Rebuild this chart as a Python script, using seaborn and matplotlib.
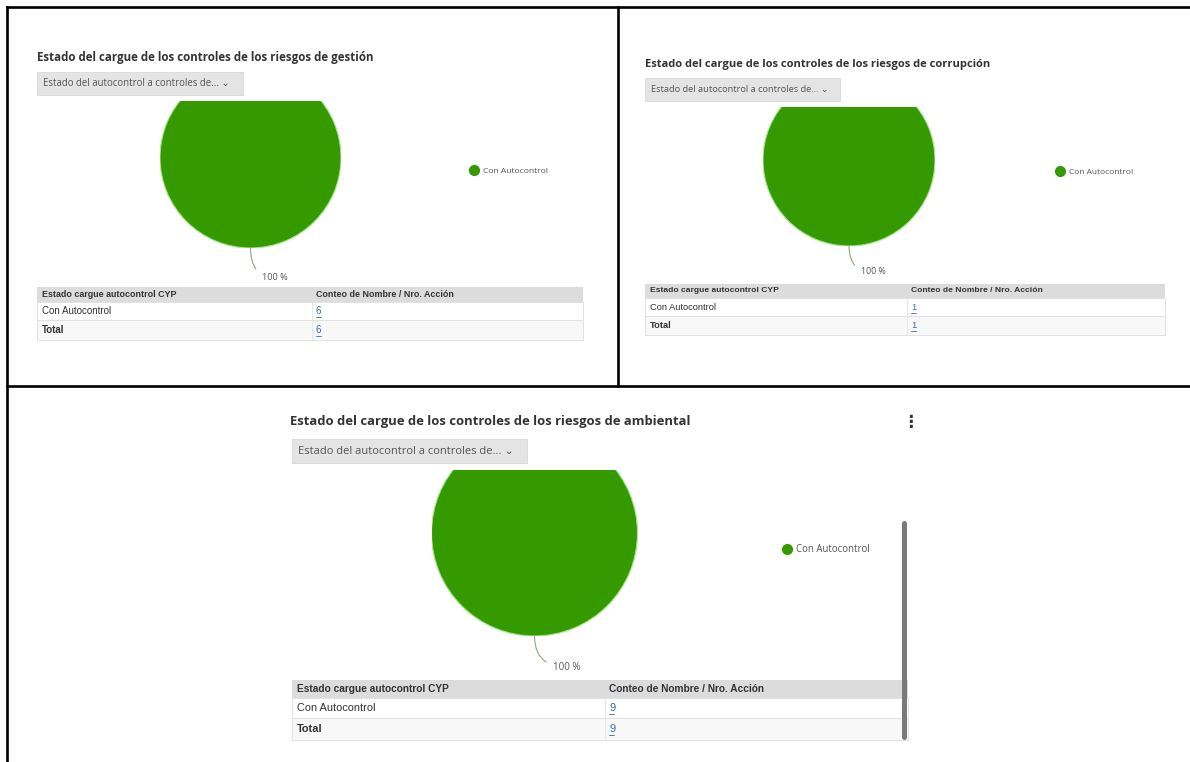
import matplotlib
matplotlib.use("Agg")
import matplotlib.pyplot as plt
import seaborn as sns
from matplotlib.lines import Line2D
from matplotlib.patches import Rectangle

# ---------------- data ----------------
panel_titles = [
    "Estado del cargue de los controles de los riesgos de gestión",
    "Estado del cargue de los controles de los riesgos de corrupción",
    "Estado del cargue de los controles de los riesgos de ambiental",
]
dropdown_label = "Estado del autocontrol a controles de... \u2304"
categories = ["Con Autocontrol"]
counts_gestion = [6]
counts_corrupcion = [1]
counts_ambiental = [9]
table_headers = ["Estado cargue autocontrol CYP", "Conteo de Nombre / Nro. Acción"]
total_label = "Total"
pie_colors = ["#359a00"]

panel_counts = [counts_gestion, counts_corrupcion, counts_ambiental]

# ---------------- layout (pixels) ----------------
W, H = 1190, 762
layout = [
    dict(title=(37, 58, 8.3), dd=(37, 72, 243, 95, 6.9), pie=(250.5, 157.5, 90.5, 101),
         lab=(262, 277, 6.6), legend=(474, 171, 6.1), table=(37, 583, 312, [287, 302, 320, 340], 6.4)),
    dict(title=(645, 65, 8.0), dd=(645, 78, 840, 101, 6.7), pie=(849, 160, 86, 107),
         lab=(861, 272, 6.3), legend=(1060, 172, 6.0), table=(645, 1165, 907, [284, 298, 316, 335], 6.1)),
    dict(title=(290, 422, 9.35), dd=(292, 439, 527, 463, 8.0), pie=(534.5, 533, 103, 470),
         lab=(553, 667, 7.0), legend=(785, 550, 6.9), table=(292, 908, 605, [680, 698, 718, 740], 7.3)),
]

sns.set_theme(style="white")
plt.rcParams['font.family'] = ['Open Sans', 'DejaVu Sans']

fig = plt.figure(figsize=(W / 100, H / 100), dpi=100)
fig.patch.set_facecolor("white")

bg = fig.add_axes([0, 0, 1, 1])
bg.set_xlim(0, W)
bg.set_ylim(H, 0)
bg.axis("off")
bg.set_zorder(0)

# outer frame / dividers
frame_kw = dict(color="black", lw=1.9, solid_capstyle="projecting")
bg.plot([7, W], [7, 7], **frame_kw)
bg.plot([7, 7], [7, H], **frame_kw)
bg.plot([7, W], [386, 386], **frame_kw)
bg.plot([618, 618], [7, 386], **frame_kw)

table_font = ['Liberation Sans', 'DejaVu Sans']

for i, (title, counts, L) in enumerate(zip(panel_titles, panel_counts, layout)):
    # title
    tx, ty, tfs = L["title"]
    bg.text(tx, ty, title, fontsize=tfs, fontweight="bold", color="#333333",
            va="center", ha="left")
    # dropdown
    x0, y0, x1, y1, dfs = L["dd"]
    bg.add_patch(Rectangle((x0, y0), x1 - x0, y1 - y0, facecolor="#e4e4e4",
                           edgecolor="#d8d8d8", lw=0.6))
    bg.text(x0 + 6, (y0 + y1) / 2, dropdown_label, fontsize=dfs, color="#555555",
            va="center", ha="left")

    # pie (clipped at top)
    cx, cy, r, top = L["pie"]
    bottom = cy + r
    pax = fig.add_axes([(cx - r) / W, 1 - bottom / H, 2 * r / W, (bottom - top) / H])
    wedges, _ = pax.pie(counts, colors=pie_colors, startangle=90, counterclock=False,
                        wedgeprops=dict(edgecolor="#a8e38c", linewidth=0.8))
    for w in wedges:
        w.set_clip_on(True)
        w.set_clip_path(pax.patch)
    pax.set_aspect("auto")
    pax.set_xlim(-1.0, 1.0)
    pax.set_ylim(-1.0, (cy - top) / r)
    pax.axis("off")

    # percentage label with leader line
    total = sum(counts)
    pct = f"{100 * counts[0] / total:.0f} %"
    lx, ly, lfs = L["lab"]
    bg.annotate(pct, xy=(cx, bottom), xytext=(lx, ly), fontsize=lfs, color="#555555",
                va="center", ha="left",
                arrowprops=dict(arrowstyle="-", color="#8aa878", lw=0.8,
                                shrinkA=3, shrinkB=0,
                                connectionstyle="angle3,angleA=180,angleB=90"))

    # legend
    gx, gy, gfs = L["legend"]
    handles = [Line2D([0], [0], marker="o", linestyle="none", markersize=7,
                      markerfacecolor=c, markeredgecolor=c) for c in pie_colors]
    fig.legend(handles, categories, loc="center left",
               bbox_to_anchor=((gx - 8) / W, 1 - gy / H), frameon=False,
               fontsize=gfs, handletextpad=0.5, borderpad=0, handlelength=1.0,
               labelcolor="#555555")

    # table
    tx0, tx1, colx, rows, tf = L["table"]
    bg.add_patch(Rectangle((tx0, rows[0]), tx1 - tx0, rows[1] - rows[0],
                           facecolor="#dcdcdc", edgecolor="none"))
    bg.add_patch(Rectangle((tx0, rows[1]), tx1 - tx0, rows[2] - rows[1],
                           facecolor="white", edgecolor="#e2e2e2", lw=0.7))
    bg.add_patch(Rectangle((tx0, rows[2]), tx1 - tx0, rows[3] - rows[2],
                           facecolor="#f8f8f8", edgecolor="#e2e2e2", lw=0.7))
    bg.plot([colx, colx], [rows[1], rows[3]], color="#e6e6e6", lw=0.7)
    hy = (rows[0] + rows[1]) / 2
    bg.text(tx0 + 5, hy, table_headers[0], fontsize=tf, fontweight="bold",
            color="#333333", va="center", ha="left", family=table_font)
    bg.text(colx + 4, hy, table_headers[1], fontsize=tf, fontweight="bold",
            color="#333333", va="center", ha="left", family=table_font)
    row_labels = categories + [total_label]
    row_vals = counts + [total]
    for j, (rl, rv) in enumerate(zip(row_labels, row_vals)):
        ry = (rows[j + 1] + rows[j + 2]) / 2
        bg.text(tx0 + 5, ry, rl, fontsize=tf + 0.6,
                fontweight="bold" if rl == total_label else "normal",
                color="#333333", va="center", ha="left", family=table_font)
        bg.text(colx + 4, ry, str(rv), fontsize=tf + 0.6, color="#2f6db5",
                va="center", ha="left", family=table_font)
        bg.plot([colx + 4, colx + 9], [ry + 5.5, ry + 5.5], color="#2f6db5", lw=0.6)

# kebab menu & scrollbar (bottom panel)
bg.text(910, 422, "\u22ee", fontsize=12, fontweight="bold", color="#333333",
        ha="center", va="center", family=['DejaVu Sans'])
bg.plot([904, 904], [523, 737], color="#7a7a7a", lw=3.6, solid_capstyle="round")

fig.savefig("out.png", dpi=100, facecolor="white")
